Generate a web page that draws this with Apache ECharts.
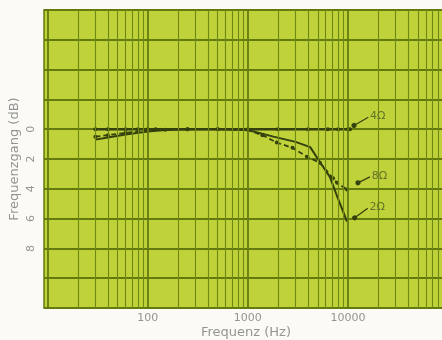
<!DOCTYPE html>
<html>
<head>
<meta charset="utf-8">
<script src="https://cdn.jsdelivr.net/npm/echarts@6/dist/echarts.min.js"></script>
<style>
	html, body {margin: 0; padding: 0; background: #fbfaf5;}
	#chart {width: 442px; height: 340px;}
</style>
</head>
<body>
<div id="chart"></div>
<script>
// frequency response (dB drop, positive = down) for three loads
const freq4 = [30, 40, 60, 80, 100, 120, 250, 500, 1000, 2000, 4000, 6300, 8000, 10000, 10500];
const db4 = [0, 0, 0, 0, 0, 0, 0, 0, 0, 0, 0, 0, 0, 0, 0];

const freq8 = [30, 40, 60, 100, 150, 250, 500, 1000, 1400, 1950, 2800, 3900, 5250, 7100, 7800, 9800];
const db8 = [0.5, 0.4, 0.25, 0.1, 0.03, 0, 0, 0.05, 0.4, 0.9, 1.25, 1.85, 2.25, 3.3, 3.6, 4.05];

const freq2 = [30, 40, 60, 100, 150, 250, 500, 1000, 1800, 3000, 4200, 5250, 6600, 7900, 9800];
const db2 = [0.7, 0.55, 0.35, 0.15, 0.05, 0, 0, 0.05, 0.5, 0.85, 1.2, 2.2, 3.2, 4.6, 6.2];

const xTickLabels = [100, 1000, 10000];
const yTickLabels = [0, 2, 4, 6, 8];

// log paper lines
const majorFreqs = [10, 100, 1000, 10000, 100000];
const minorFreqs = [];
[10, 100, 1000, 10000].forEach(d => {
	for (let k = 2; k <= 9; k++) minorFreqs.push(d * k);
});

// annotation arrows: [start, end] in data units, and label text
const tags = [
	{name: '4Ω', from: [11500, -0.25], to: [16000, -0.8]},
	{name: '8Ω', from: [12600, 3.6], to: [16600, 3.2]},
	{name: '2Ω', from: [11700, 5.95], to: [15800, 5.3]}
];

const pairs = (xs, ys) => xs.map((x, i) => [x, ys[i]]);

const ink = '#34400e';
const gridInk = '#6f8812';
const majorInk = '#647a0e';
const textGrey = '#949494';
const font = 'DejaVu Sans';

const tagLine = t => ({
	silent: true,
	symbol: ['circle', 'none'],
	symbolSize: 5,
	lineStyle: {color: ink, width: 1.2, type: 'solid'},
	label: {show: true, position: 'end', distance: 2, formatter: t.name, color: '#66742a', fontSize: 11, fontFamily: font},
	data: [[{coord: t.from}, {coord: t.to}]]
});

const chart = echarts.init(document.getElementById('chart'));
chart.setOption({
	backgroundColor: '#fbfaf5',
	animation: false,
	grid: {
		left: 44, right: -6, top: 10, bottom: 32,
		outerBoundsMode: 'none',
		containLabel: false,
		show: true,
		backgroundColor: '#bfd23a',
		borderColor: majorInk,
		borderWidth: 1.5
	},
	xAxis: {
		type: 'log',
		min: 9.2,
		max: 100000,
		name: 'Frequenz (Hz)',
		nameLocation: 'middle',
		nameGap: 18,
		nameMoveOverlap: false,
		nameTextStyle: {color: textGrey, fontSize: 13, fontFamily: font},
		axisLine: {show: false},
		axisTick: {show: false},
		splitLine: {show: false},
		axisLabel: {
			color: textGrey, fontSize: 11, margin: 5, fontFamily: font,
			formatter: v => xTickLabels.includes(Math.round(v)) ? String(Math.round(v)) : ''
		}
	},
	yAxis: {
		type: 'value',
		inverse: true,
		min: -8,
		max: 12,
		interval: 2,
		name: 'Frequenzgang (dB)',
		nameLocation: 'middle',
		nameGap: 23,
		nameMoveOverlap: false,
		nameTextStyle: {color: textGrey, fontSize: 13, fontFamily: font},
		axisLine: {show: false},
		axisTick: {show: false},
		splitLine: {show: true, lineStyle: {color: majorInk, width: 1.8}},
		axisLabel: {
			color: textGrey, fontSize: 11, margin: 7, rotate: 90, fontFamily: font,
			formatter: v => yTickLabels.includes(v) ? String(v) : ''
		}
	},
	series: [
		{
			name: 'grid', type: 'line', data: [], z: 1, silent: true,
			markLine: {
				silent: true,
				symbol: ['none', 'none'],
				label: {show: false},
				lineStyle: {color: gridInk, width: 1.1, type: 'solid'},
				data: minorFreqs.map(v => ({xAxis: v}))
					.concat(majorFreqs.map(v => ({xAxis: v, lineStyle: {color: majorInk, width: 1.8, type: 'solid'}})))
			}
		},
		{
			name: '4Ω', type: 'line', z: 3,
			data: pairs(freq4, db4),
			symbol: 'circle', symbolSize: 4,
			itemStyle: {color: ink},
			lineStyle: {color: ink, width: 2.5},
			markLine: tagLine(tags[0])
		},
		{
			name: '8Ω', type: 'line', z: 3,
			data: pairs(freq8, db8),
			symbol: 'circle', symbolSize: 4, showAllSymbol: true,
			itemStyle: {color: ink},
			lineStyle: {color: ink, width: 1.8, type: [5, 3]},
			markLine: tagLine(tags[1])
		},
		{
			name: '2Ω', type: 'line', z: 3,
			data: pairs(freq2, db2),
			symbol: 'none',
			itemStyle: {color: ink},
			lineStyle: {color: ink, width: 2},
			markLine: tagLine(tags[2])
		}
	]
});
</script>
</body>
</html>
